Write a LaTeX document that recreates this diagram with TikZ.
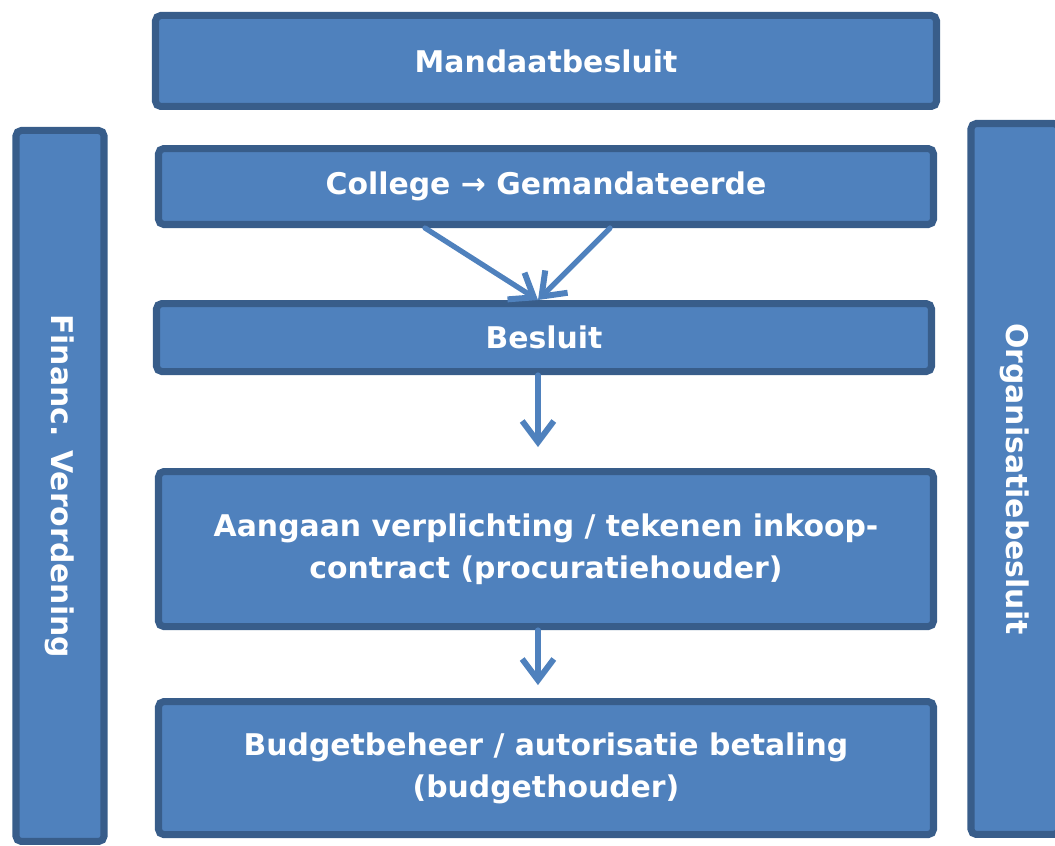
\documentclass[tikz,border=0pt]{standalone}
\usepackage{fontspec}
\setmainfont{DejaVu Sans}
\usetikzlibrary{arrows.meta, positioning}
\definecolor{boxblue}{HTML}{4F81BD}
\definecolor{boxedge}{HTML}{385D8A}

\begin{document}
\begin{tikzpicture}[
  box/.style={rectangle, draw=boxedge, fill=boxblue, line width=2pt,
    rounded corners=1.5pt, text=white, align=center,
    font=\fontsize{8.5}{12}\selectfont\bfseries},
  mainbox/.style={box, minimum width=7.75cm, inner sep=0pt},
  sidebar/.style={box, minimum width=0.88cm, minimum height=7.11cm,
    inner sep=0pt},
  flow/.style={draw=boxblue, line width=1.5pt, line cap=round,
    -{Straight Barb[length=6pt, width=9pt, line width=1.7pt]}}
]
  \useasboundingbox (0,0) rectangle (10.55,8.46);

  \node[mainbox, minimum width=7.81cm, minimum height=0.91cm]
    (mandaat) at (5.46,7.85) {Mandaatbesluit};
  \node[mainbox, minimum height=0.76cm, below=0.35cm of mandaat]
    (college) {College → Gemandateerde};
  \node[mainbox, minimum height=0.68cm, below=0.72cm of college,
    xshift=-0.02cm] (besluit) {Besluit};
  \node[mainbox, minimum height=1.55cm, below=0.93cm of besluit,
    xshift=0.02cm] (aangaan)
    {Aangaan verplichting / tekenen inkoop-\\contract (procuratiehouder)};
  \node[mainbox, minimum height=1.33cm, below=0.68cm of aangaan]
    (budget) {Budgetbeheer / autorisatie betaling\\(budgethouder)};

  \node[sidebar] (financ) at (0.60,3.60)
    {\rotatebox{-90}{Financ. Verordening}};
  \node[sidebar] (organisatie) at (10.15,3.67)
    {\rotatebox{-90}{Organisatiebesluit}};

  \draw[flow] ([xshift=-1.21cm]college.south) -- ([xshift=-0.06cm]besluit.north);
  \draw[flow] ([xshift=0.64cm]college.south) -- ([xshift=-0.06cm]besluit.north);
  \draw[flow] ([xshift=-0.06cm]besluit.south)
    -- ([xshift=-0.08cm, yshift=0.21cm]aangaan.north);
  \draw[flow] ([xshift=-0.08cm]aangaan.south)
    -- ([xshift=-0.08cm, yshift=0.13cm]budget.north);
\end{tikzpicture}
\end{document}
